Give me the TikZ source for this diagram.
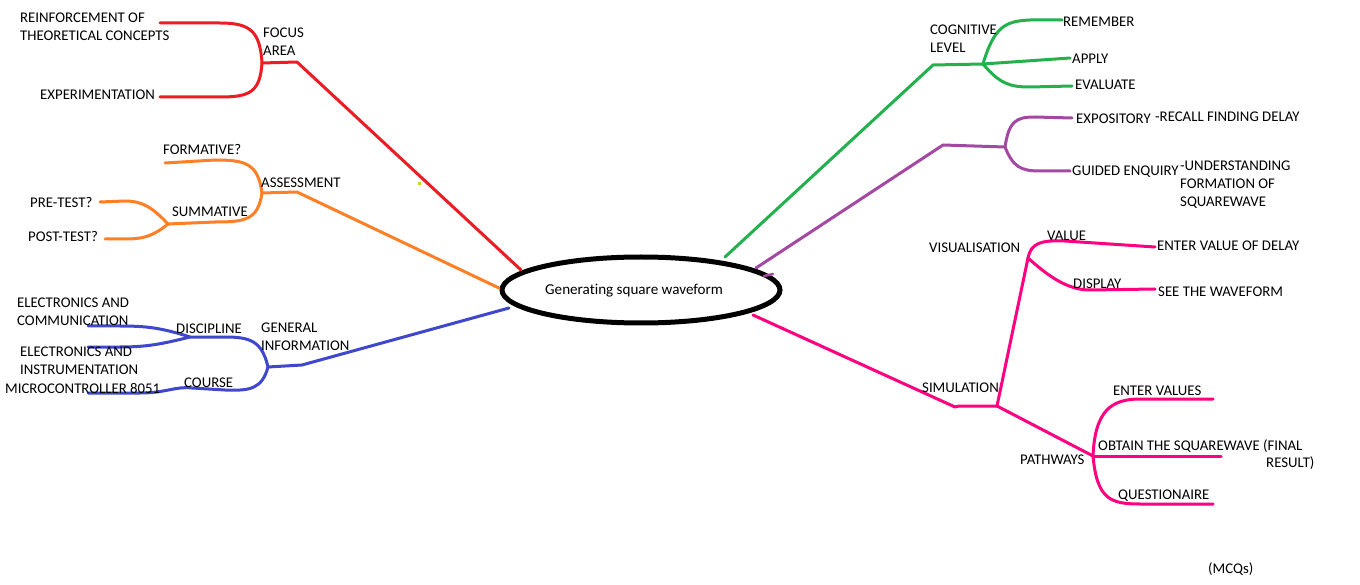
\documentclass[tikz,border=0pt]{standalone}
\usepackage{fontspec}
\setmainfont{Carlito}[Ligatures=NoCommon]
\usetikzlibrary{shapes.geometric}
\definecolor{mred}{RGB}{237,28,36}
\definecolor{morange}{RGB}{255,127,39}
\definecolor{mblue}{RGB}{63,72,204}
\definecolor{mgreen}{RGB}{34,177,76}
\definecolor{mpurple}{RGB}{163,73,164}
\definecolor{mpink}{RGB}{255,0,128}
\definecolor{mlime}{RGB}{181,230,29}
\tikzset{
  lab/.style={anchor=base west, inner sep=0pt, align=left, text=black,
    font=\fontsize{14.8}{18}\selectfont},
  br/.style={line width=3pt, line cap=round, line join=round},
}
\begin{document}
\begin{tikzpicture}[x=1pt,y=-1pt]
\useasboundingbox[fill=white] (0,0) rectangle (1360,585);

% central node
\node[ellipse, draw=black, line width=5pt, minimum width=278pt, minimum height=66pt, inner sep=0pt] (ell) at (641,290) {};
\node[lab, font=\fontsize{15.1}{18}\selectfont] (title) at (545,295) {Generating square waveform};

% end points on the ellipse
\coordinate (eR) at (521,270);
\coordinate (eO) at (499,288);
\coordinate (eB) at (509,308);
\coordinate (eG) at (725,257);
\coordinate (eP) at (756,268);
\coordinate (eK) at (753,315);

% ---------- RED: focus area
\coordinate (rA) at (297,62);
\coordinate (jF) at (262,63);
\coordinate (rT) at (160,23);
\coordinate (rB) at (160,97);
\draw[br, mred] (eR) -- (rA) -- (jF);
\draw[br, mred] (jF) .. controls (260,31) and (250,23) .. (220,23) -- (rT);
\draw[br, mred] (jF) .. controls (260,92) and (250,97) .. (220,97) -- (rB);
\node[lab] (reinf) at (20,41) {REINFORCEMENT OF\\THEORETICAL CONCEPTS};
\node[lab] (exper) at (40,100) {EXPERIMENTATION};
\node[lab] (focus) at (263,56) {FOCUS\\AREA};
\fill[mlime] (418,182) rectangle (421,185);

% ---------- ORANGE: assessment
\coordinate (oA) at (297,192);
\coordinate (jA) at (262,193);
\coordinate (oT) at (165,163);
\coordinate (jS) at (168,224);
\coordinate (oPre) at (100,202);
\coordinate (oPost) at (105,239);
\draw[br, morange] (eO) -- (oA) -- (jA);
\draw[br, morange] (jA) .. controls (258,163) and (245,160) .. (215,160) -- (oT);
\draw[br, morange] (jA) .. controls (258,220) and (245,222) .. (215,222) -- (jS);
\draw[br, morange] (jS) .. controls (152,207) and (142,201) .. (125,201) -- (oPre);
\draw[br, morange] (jS) .. controls (152,237) and (142,239) .. (125,239) -- (oPost);
\node[lab] (form) at (163,155) {FORMATIVE?};
\node[lab] (assess) at (261,188) {ASSESSMENT};
\node[lab] (summ) at (172,217) {SUMMATIVE};
\node[lab] (pre) at (30,208) {PRE-TEST?};
\node[lab] (post) at (28,242) {POST-TEST?};

% ---------- BLUE: general information
\coordinate (bA) at (302,365);
\coordinate (jG) at (268,367);
\coordinate (jD) at (190,337);
\coordinate (jC) at (192,388);
\coordinate (bT1) at (88,326);
\coordinate (bT2) at (88,347);
\coordinate (bC) at (88,393);
\draw[br, mblue] (eB) -- (bA) -- (jG);
\draw[br, mblue] (jG) .. controls (262,341) and (250,337) .. (225,337) -- (jD);
\draw[br, mblue] (jD) .. controls (162,328) and (147,326) .. (120,326) -- (bT1);
\draw[br, mblue] (jD) .. controls (162,344) and (147,347) .. (120,347) -- (bT2);
\draw[br, mblue] (jG) .. controls (262,389) and (250,391) .. (225,390) -- (jC)
  .. controls (176,386) and (166,393) .. (140,393) -- (bC);
\node[lab] (ec) at (17,326) {ELECTRONICS AND\\COMMUNICATION};
\node[lab] (disc) at (176,334) {DISCIPLINE};
\node[lab] (gen) at (261,350) {GENERAL\\INFORMATION};
\node[lab] (ei) at (20,374) {ELECTRONICS AND\\INSTRUMENTATION};
\node[lab] (micro) at (5,393) {MICROCONTROLLER 8051};
\node[lab] (course) at (184,387) {COURSE};

% ---------- GREEN: cognitive level
\coordinate (gA) at (933,65);
\coordinate (jCL) at (983,64);
\coordinate (gT) at (1062,20);
\coordinate (gM) at (1070,58);
\coordinate (gB) at (1072,86);
\draw[br, mgreen] (eG) -- (gA) -- (jCL);
\draw[br, mgreen] (jCL) .. controls (994,27) and (1005,21) .. (1030,20) -- (gT);
\draw[br, mgreen] (jCL) -- (gM);
\draw[br, mgreen] (jCL) .. controls (1000,84) and (1010,87) .. (1030,87) -- (gB);
\node[lab] (cog) at (930,53) {COGNITIVE\\LEVEL};
\node[lab] (rem) at (1063,27) {REMEMBER};
\node[lab] (apply) at (1072,64) {APPLY};
\node[lab] (eval) at (1075,90) {EVALUATE};

% ---------- PURPLE
\coordinate (pA) at (943,145);
\coordinate (jP) at (1005,147);
\coordinate (pT) at (1072,118);
\coordinate (pB) at (1070,171);
\coordinate (pt1) at (764,276);
\coordinate (pt2) at (773,274);
\draw[br, mpurple] (eP) -- (pA) -- (jP);
\draw[br, mpurple] (jP) .. controls (1009,121) and (1016,117) .. (1035,117) -- (pT);
\draw[br, mpurple] (jP) .. controls (1013,167) and (1021,171) .. (1040,171) -- (pB);
\draw[br, mpurple, line width=2.5pt] (pt1) -- (pt2);
\node[lab] (expo) at (1076,124) {EXPOSITORY};
\node[lab] (recall) at (1155,122) {-RECALL FINDING DELAY};
\node[lab] (guided) at (1072,176) {GUIDED ENQUIRY};
\node[lab] (under) at (1180,207) {-UNDERSTANDING\\FORMATION OF\\SQUAREWAVE};

% ---------- PINK: simulation
\coordinate (kA) at (955,407);
\coordinate (kA2) at (959,406);
\coordinate (jSim) at (997,406);
\coordinate (jV) at (1028,258);
\coordinate (kV) at (1155,247);
\coordinate (kD) at (1155,289);
\coordinate (jPw) at (1093,456);
\coordinate (kP1) at (1213,399);
\coordinate (kP2) at (1221,456);
\coordinate (kP3) at (1213,504);
\draw[br, mpink] (eK) -- (kA) -- (kA2) -- (jSim);
\draw[br, mpink] (jSim) -- (jV);
\draw[br, mpink] (jV) .. controls (1031,243) and (1041,240) .. (1065,241) -- (kV);
\draw[br, mpink] (jV) .. controls (1046,274) and (1066,290) .. (1090,290) -- (kD);
\draw[br, mpink] (jSim) -- (jPw);
\draw[br, mpink] (jPw) .. controls (1095,412) and (1110,399) .. (1140,399) -- (kP1);
\draw[br, mpink] (jPw) -- (kP2);
\draw[br, mpink] (jPw) .. controls (1097,499) and (1110,504) .. (1140,504) -- (kP3);
\node[lab] (visu) at (929,253) {VISUALISATION};
\node[lab] (value) at (1047,241) {VALUE};
\node[lab] (enterd) at (1157,251) {ENTER VALUE OF DELAY};
\node[lab] (disp) at (1073,289) {DISPLAY};
\node[lab] (seew) at (1158,297) {SEE THE WAVEFORM};
\node[lab] (sim) at (922,392) {SIMULATION};
\node[lab] (path) at (1020,464) {PATHWAYS};
\node[lab] (entv) at (1113,395) {ENTER VALUES};
\node[lab] (obt) at (1098,450) {OBTAIN THE SQUAREWAVE (FINAL};
\node[lab] (res) at (1266,467) {RESULT)};
\node[lab] (quest) at (1118,499) {QUESTIONAIRE};
\node[lab] (mcq) at (1208,573) {(MCQs)};
\end{tikzpicture}
\end{document}
